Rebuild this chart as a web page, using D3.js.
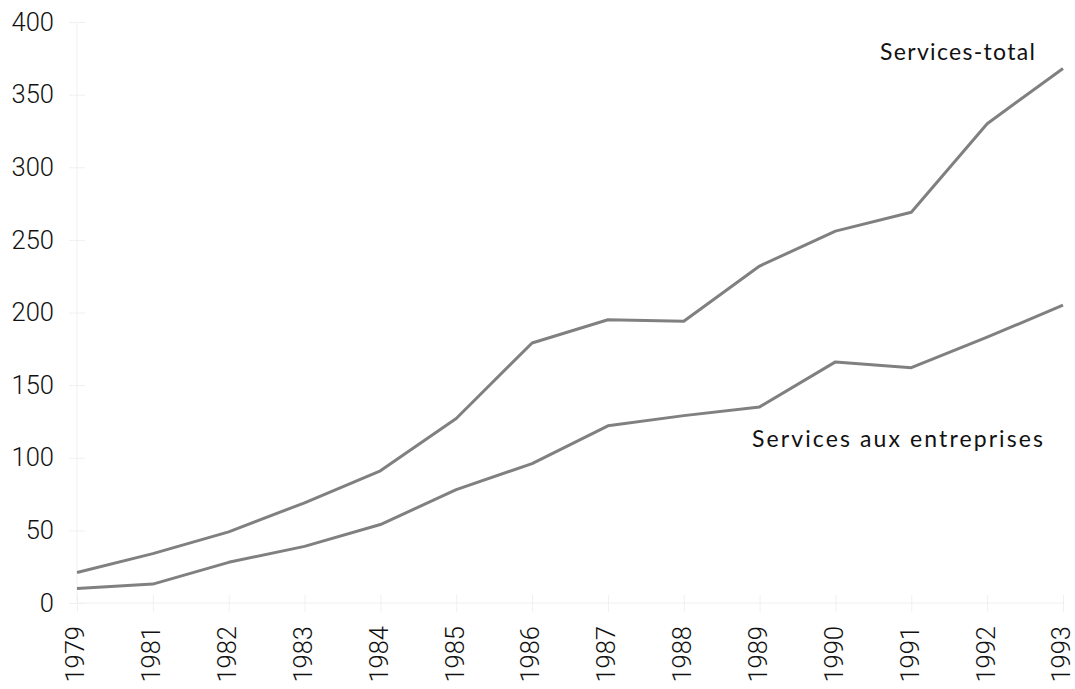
<!DOCTYPE html>
<html><head><meta charset="utf-8">
<script src="https://cdn.jsdelivr.net/npm/d3@7"></script>
<style>body{margin:0;background:#fff}svg{display:block}</style>
</head><body>
<svg id="c" width="1075" height="689"></svg>
<script>
const years = ["1979","1981","1982","1983","1984","1985","1986","1987","1988","1989","1990","1991","1992","1993"];
const servicesTotal = [21,34,49,69,91,127,179,195,194,232,256,269,330,368];
const servicesEntreprises = [10,13,28,39,54,78,96,122,129,135,166,162,183,205];
const yTicks = [0,50,100,150,200,250,300,350,400];
const seriesNames = ["Services-total","Services aux entreprises"];

const svg = d3.select("#c");
const x = d3.scalePoint().domain(years).range([77,1063]);
const y = d3.scaleLinear().domain([0,400]).range([603,22]);
const axisColor = "#f0f0f0";
const tickFont = "Roboto, 'Liberation Sans', Arial, sans-serif";

const yAxis = svg.append("g").attr("transform","translate(77,0)")
  .call(d3.axisLeft(y).tickValues(yTicks).tickSize(8).tickPadding(15));
yAxis.selectAll(".tick line").attr("x2",-8).attr("x1",8).attr("stroke",axisColor);
yAxis.select(".domain").attr("stroke",axisColor).attr("d","M0,22V603");
yAxis.selectAll("text").attr("x",-23).attr("font-family",tickFont).attr("font-weight",300).attr("font-size",25.5).attr("fill","#111");

const xAxis = svg.append("g").attr("transform","translate(0,603)")
  .call(d3.axisBottom(x).tickSize(9));
xAxis.selectAll(".tick line").attr("y1",-8).attr("y2",9).attr("stroke",axisColor);
xAxis.select(".domain").attr("stroke",axisColor).attr("d","M77,0H1063");
xAxis.selectAll("text")
  .attr("font-family",tickFont).attr("font-weight",300).attr("font-size",25.5).attr("fill","#111")
  .attr("text-anchor","end").attr("dy","0.27em")
  .attr("transform","rotate(-90)").attr("x",-23).attr("y",0);

const line = d3.line().x((d,i)=>x(years[i])).y(d=>y(d));
[servicesTotal, servicesEntreprises].forEach(s=>{
  svg.append("path").datum(s).attr("d",line).attr("fill","none")
    .attr("stroke","#808080").attr("stroke-width",3).attr("stroke-linejoin","round");
});

const lblFont = "Lato, 'Open Sans', sans-serif";
svg.append("text").attr("x",880).attr("y",60).text(seriesNames[0])
  .attr("font-family",lblFont).attr("font-size",23).attr("fill","#111")
  .attr("textLength",155).attr("lengthAdjust","spacing");
svg.append("text").attr("x",752).attr("y",447).text(seriesNames[1])
  .attr("font-family",lblFont).attr("font-size",23).attr("fill","#111")
  .attr("textLength",291).attr("lengthAdjust","spacing");
</script>
</body></html>
